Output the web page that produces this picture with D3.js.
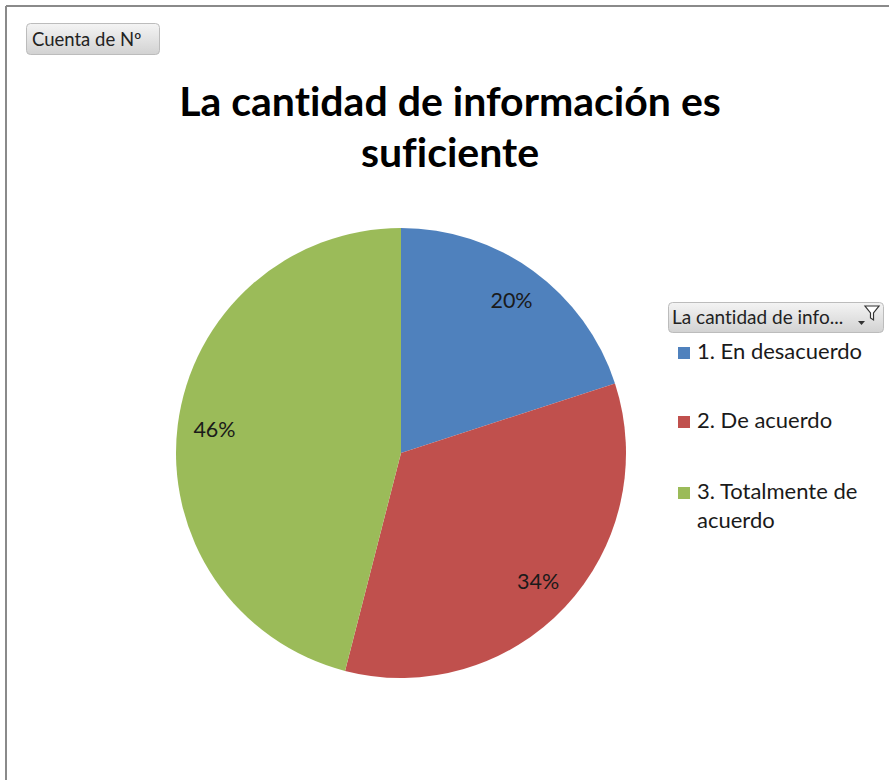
<!DOCTYPE html>
<html>
<head>
<meta charset="utf-8">
<script src="https://cdn.jsdelivr.net/npm/d3@7"></script>
<style>
  body { margin: 0; background: #fff; }
  svg { display: block; }
  text { font-variant-ligatures: none; }
</style>
</head>
<body>
<svg id="chart" width="889" height="780"></svg>
<script>
var categories = ["1. En desacuerdo", "2. De acuerdo", "3. Totalmente de acuerdo"];
var counts = [10, 17, 23];
var legendLines = [["1. En desacuerdo"], ["2. De acuerdo"], ["3. Totalmente de", "acuerdo"]];
var colors = ["#4f81bd", "#c0504d", "#9bbb59"];

var svg = d3.select("#chart");
var font = "Lato, 'Open Sans', sans-serif";

// frame (only top and left edge visible)
svg.append("line").attr("x1", 6).attr("y1", 6).attr("x2", 889).attr("y2", 6)
  .attr("stroke", "#8a8a8a").attr("stroke-width", 2);
svg.append("line").attr("x1", 6).attr("y1", 6).attr("x2", 6).attr("y2", 780)
  .attr("stroke", "#8a8a8a").attr("stroke-width", 2);

var defs = svg.append("defs");
var grad = defs.append("linearGradient").attr("id", "btn").attr("x1", 0).attr("y1", 0).attr("x2", 0).attr("y2", 1);
grad.append("stop").attr("offset", "0%").attr("stop-color", "#f4f4f4");
grad.append("stop").attr("offset", "100%").attr("stop-color", "#d2d2d2");

// field button top-left
svg.append("rect").attr("x", 26.5).attr("y", 23.5).attr("width", 133).attr("height", 31)
  .attr("rx", 4).attr("fill", "url(#btn)").attr("stroke", "#bcbcbc");
svg.append("text").attr("x", 32).attr("y", 46).text("Cuenta de Nº")
  .attr("font-family", font).attr("font-size", 18.5).attr("fill", "#222");

// title
var title = svg.append("text").attr("text-anchor", "middle")
  .attr("font-family", font).attr("font-weight", "bold").attr("font-size", 41).attr("fill", "#000");
title.append("tspan").attr("x", 450).attr("y", 116).text("La cantidad de información es");
title.append("tspan").attr("x", 450).attr("y", 167).text("suficiente");

// pie
var cx = 401, cy = 453, r = 225;
var total = d3.sum(counts);
var pie = d3.pie().sort(null).value(function(d){ return d; });
var arc = d3.arc().innerRadius(0).outerRadius(r);
var labelArc = d3.arc().innerRadius(188).outerRadius(188);

var g = svg.append("g").attr("transform", "translate(" + cx + "," + cy + ")");
var slices = pie(counts);

g.selectAll("path").data(slices).enter().append("path")
  .attr("d", arc)
  .attr("fill", function(d, i){ return colors[i]; });

g.selectAll("text.lbl").data(slices).enter().append("text")
  .attr("class", "lbl")
  .attr("transform", function(d){ return "translate(" + labelArc.centroid(d) + ")"; })
  .attr("text-anchor", "middle").attr("dy", "0.35em")
  .attr("font-family", font).attr("font-size", 21.5).attr("fill", "#1a1a1a")
  .text(function(d){ return d3.format(".0%")(d.value / total); });

// legend header button
svg.append("rect").attr("x", 668.5).attr("y", 302.5).attr("width", 215).attr("height", 30)
  .attr("rx", 4).attr("fill", "url(#btn)").attr("stroke", "#bcbcbc");
svg.append("text").attr("x", 672).attr("y", 324).text("La cantidad de info...")
  .attr("font-family", font).attr("font-size", 19).attr("fill", "#222");
// dropdown arrow + filter icon
svg.append("path").attr("d", "M858,321 L865,321 L861.5,325 Z").attr("fill", "#333");
svg.append("path").attr("d", "M865,306 L879,306 L873.5,313 L873.5,320 L870.5,318 L870.5,313 Z")
  .attr("fill", "#fff").attr("stroke", "#333").attr("stroke-width", 1.2);

// legend entries
var legendY = [359, 428, 499];
var leg = svg.append("g").selectAll("g").data(categories).enter().append("g")
  .attr("transform", function(d, i){ return "translate(678," + legendY[i] + ")"; });
leg.append("rect").attr("x", 0).attr("y", -12).attr("width", 12).attr("height", 12)
  .attr("fill", function(d, i){ return colors[i]; });
leg.each(function(d, i){
  var t = d3.select(this).append("text").attr("font-family", font).attr("font-size", 22).attr("fill", "#1a1a1a");
  legendLines[i].forEach(function(line, j){
    t.append("tspan").attr("x", 19).attr("y", j * 29).text(line);
  });
});
</script>
</body>
</html>
